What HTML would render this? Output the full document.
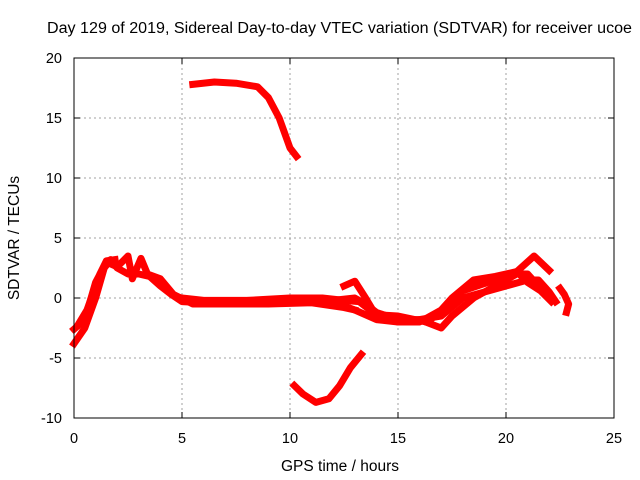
<!DOCTYPE html>
<html><head><meta charset="utf-8"><style>
body{margin:0;background:#fff}
svg{display:block;font-family:"Liberation Sans",sans-serif}
</style></head><body>
<svg id="chart" width="640" height="480" viewBox="0 0 640 480" xmlns="http://www.w3.org/2000/svg">
<text x="47" y="33" font-size="15.5" textLength="585" lengthAdjust="spacingAndGlyphs">Day 129 of 2019, Sidereal Day-to-day VTEC variation (SDTVAR) for receiver ucoe</text>
<text x="340" y="471" font-size="15.5" text-anchor="middle">GPS time / hours</text>
<text transform="translate(19,238) rotate(-90)" font-size="15.5" text-anchor="middle">SDTVAR / TECUs</text>
<g id="grid"></g>
<g id="ticks"></g>
<g id="series"></g>
<rect x="74" y="58" width="540" height="360" fill="none" stroke="#000" stroke-width="1"/>
</svg>
<script>
const xTicks=[0,5,10,15,20,25];
const yTicks=[-10,-5,0,5,10,15,20];
const s1x=[0,0.5,1,1.4,1.7,2,2.5,3,3.5,4,4.5,5,6,7,8,9,10,11,12,13,13.5,14,15,16,17,18,19,20,21,21.5,22,22.3];
const s1y=[-3.8,-2.5,0,2.5,3.2,2.5,2,2,1.8,1,0.3,-0.3,-0.4,-0.3,-0.4,-0.3,-0.2,-0.1,-0.2,0,-0.5,-1.2,-1.8,-1.8,-1.5,0,0.5,1,1.5,1.5,0.5,-0.3];
const s2x=[0,0.5,1,1.5,2,2.5,2.7,3.1,3.4,4,4.6,5.5,7,9,11,12.5,13];
const s2y=[-2.6,-1.8,1.3,3,2.6,3.5,1.6,3.3,2,1.6,0.3,-0.5,-0.5,-0.5,-0.4,-0.8,-1];
const s3x=[12.5,13,13.5,14,15,16,17,17.5,18.5,19.5,20.5,21.3,22];
const s3y=[1,1.4,0,-1.5,-2,-2,-1,0,1.5,1.8,2.2,3.5,2.3];
const s4x=[12,13,14,15,16,17,17.5,18.5,19.5,20.5,21,21.5,22];
const s4y=[-0.3,-1,-1.8,-2,-1.8,-2.5,-1.5,0,1,2,2,1,0];
const s5x=[5.5,6.5,7.5,8.5,9,9.5,10,10.3];
const s5y=[17.8,18,17.9,17.6,16.7,15,12.5,11.8];
const s6x=[10.2,10.6,11.2,11.8,12.3,12.8,13.3];
const s6y=[-7.3,-8,-8.7,-8.4,-7.3,-5.8,-4.7];
const s7x=[22.5,22.7,22.9,22.8];
const s7y=[0.8,0.3,-0.5,-1.2];
const s8x=[16.5,17.2,18,19,20,20.5,21,21.6,22.1];
const s8y=[-1.8,-0.8,0.6,1.2,1.8,2.2,1.3,0.6,-0.3];
const s9x=[0.2,0.6,0.9,1.2,1.5,1.9];
const s9y=[-2.2,-1,0.5,2,3.1,3.2];
const s10x=[5,6,8,10,11.5,12.5,13.2,14,15,16.3];
const s10y=[0,-0.2,-0.2,0,0,-0.2,-0.3,-1.4,-1.5,-2];
const X=v=>74+v*21.6, Y=v=>298-v*12;
const NS="http://www.w3.org/2000/svg";
const grid=document.getElementById('grid'), ticks=document.getElementById('ticks'), ser=document.getElementById('series');
function mk(t,a,p){const e=document.createElementNS(NS,t);for(const k in a)e.setAttribute(k,a[k]);p.appendChild(e);return e;}
xTicks.forEach(v=>{
 if(v>0&&v<25){const g=mk('line',{x1:X(v),x2:X(v),y1:58,y2:418,stroke:'#a0a0a0','stroke-dasharray':'2,3'},grid);
 
 }
 mk('line',{x1:X(v),x2:X(v),y1:418,y2:412,stroke:'#000'},ticks);
 mk('line',{x1:X(v),x2:X(v),y1:58,y2:64,stroke:'#000'},ticks);
 const t=mk('text',{x:X(v),y:443,'font-size':14.5,'text-anchor':'middle'},ticks);t.textContent=v;
 
 
});
yTicks.forEach(v=>{
 if(v>-10&&v<20){const g=mk('line',{x1:74,x2:614,y1:Y(v),y2:Y(v),stroke:'#a0a0a0','stroke-dasharray':'2,3'},grid);
 
 }
 mk('line',{x1:74,x2:80,y1:Y(v),y2:Y(v),stroke:'#000'},ticks);
 mk('line',{x1:608,x2:614,y1:Y(v),y2:Y(v),stroke:'#000'},ticks);
 const t=mk('text',{x:62,y:Y(v)+5,'font-size':14.5,'text-anchor':'end'},ticks);t.textContent=v;
 
 
});
[[s1x,s1y],[s2x,s2y],[s3x,s3y],[s4x,s4y],[s5x,s5y],[s6x,s6y],[s7x,s7y],[s8x,s8y],[s9x,s9y],[s10x,s10y]].forEach((s,i)=>{
 const pts=s[0].map((x,j)=>X(x)+','+Y(s[1][j])).join(' ');
 const p=mk('polyline',{points:pts,fill:'none',stroke:'#ff0000','stroke-width':7,'stroke-linejoin':'round','stroke-linecap':'square'},ser);
 
 
});
</script>
</body></html>
